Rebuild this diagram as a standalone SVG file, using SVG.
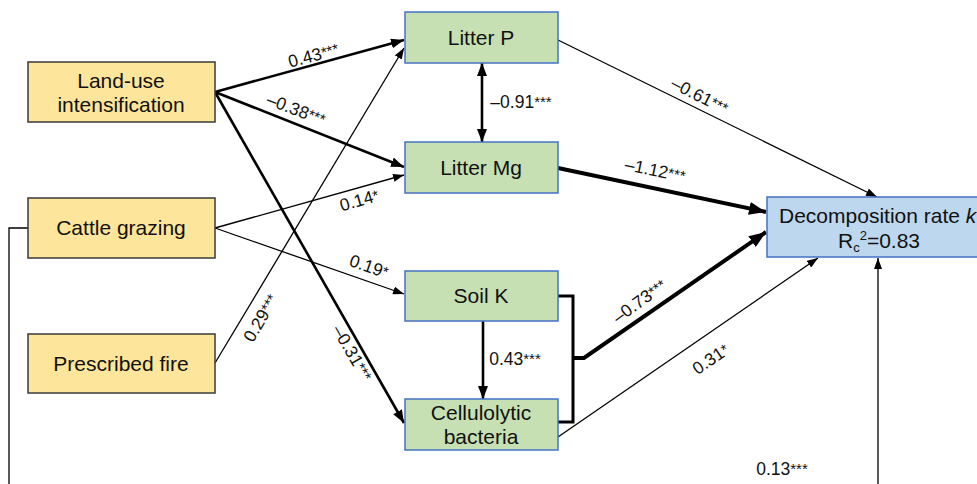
<svg xmlns="http://www.w3.org/2000/svg" width="977" height="484" viewBox="0 0 977 484">
<style>
text{font-family:"Liberation Sans",Arial,sans-serif;fill:#111}
.nt{font-size:21px;text-anchor:middle}
.lb{font-size:17.5px;text-anchor:middle}
.st{font-size:15px}
.y{fill:#fde69b;stroke:#3a3a3a;stroke-width:1.5}
.g{fill:#c6e0b4;stroke:#4472c4;stroke-width:1.5}
.b{fill:#bdd7ee;stroke:#4472c4;stroke-width:1.5}
.e{fill:none;stroke:#000}
.t1{stroke-width:1.3}
.t2{stroke-width:2.6}
.t3{stroke-width:4}
</style>
<defs>
<marker id="a1" markerUnits="userSpaceOnUse" markerWidth="11" markerHeight="8" refX="11" refY="4" orient="auto"><path d="M0,0 L11,4 L0,8 z" fill="#000"/></marker>
<marker id="a2" markerUnits="userSpaceOnUse" markerWidth="13" markerHeight="10" refX="13" refY="5" orient="auto-start-reverse"><path d="M0,0 L13,5 L0,10 z" fill="#000"/></marker>
<marker id="a3" markerUnits="userSpaceOnUse" markerWidth="17" markerHeight="13" refX="17" refY="6.5" orient="auto"><path d="M0,0 L17,6.5 L0,13 z" fill="#000"/></marker>
</defs>

<g id="connectors">
<path class="e t2" d="M215,92 L404,40" marker-end="url(#a2)"/>
<path class="e t2" d="M215,92 L404,167" marker-end="url(#a2)"/>
<path class="e t2" d="M215,92 L404,423" marker-end="url(#a2)"/>
<path class="e t1" d="M215,228 L404,175" marker-end="url(#a1)"/>
<path class="e t1" d="M215,228 L404,294" marker-end="url(#a1)"/>
<path class="e t1" d="M215,363 L404,48" marker-end="url(#a1)"/>
<path class="e t2" d="M482,63 L482,142" marker-start="url(#a2)" marker-end="url(#a2)"/>
<path class="e t2" d="M483,321 L483,399" marker-end="url(#a2)"/>
<path class="e t1" d="M558,40 L877,197" marker-end="url(#a1)"/>
<path class="e t3" d="M558,168 L766,212" marker-end="url(#a3)"/>
<path class="e" stroke-width="3" d="M558,296 H573 V422 H558"/>
<path class="e t3" d="M573,358 H584 L766,232" marker-end="url(#a3)"/>
<path class="e t1" d="M558,437 L818,258" marker-end="url(#a1)"/>
<path class="e t1" stroke="#333" d="M28,228 H9 V500 H878 V258" marker-end="url(#a1)"/>
</g>

<g id="labels">
<text class="lb" transform="translate(315,61) rotate(-15)">0.43<tspan class="st" dy="-1">***</tspan></text>
<text class="lb" transform="translate(294,115) rotate(21)">–0.38<tspan class="st" dy="-1">***</tspan></text>
<text class="lb" transform="translate(361,206) rotate(-16)">0.14<tspan class="st" dy="-1">*</tspan></text>
<text class="lb" transform="translate(367,272) rotate(19)">0.19<tspan class="st" dy="-1">*</tspan></text>
<text class="lb" transform="translate(266,321) rotate(-60)">0.29<tspan class="st" dy="-1">***</tspan></text>
<text class="lb" transform="translate(347,356) rotate(60)">–0.31<tspan class="st" dy="-1">***</tspan></text>
<text class="lb" x="521" y="108">–0.91<tspan class="st" dy="-1">***</tspan></text>
<text class="lb" transform="translate(697,101) rotate(27)">–0.61<tspan class="st" dy="-1">***</tspan></text>
<text class="lb" transform="translate(654,176) rotate(12)">–1.12<tspan class="st" dy="-1">***</tspan></text>
<text class="lb" transform="translate(643,306) rotate(-36)">–0.73<tspan class="st" dy="-1">***</tspan></text>
<text class="lb" transform="translate(714,364) rotate(-34)">0.31<tspan class="st" dy="-1">*</tspan></text>
<text class="lb" x="515" y="365">0.43<tspan class="st" dy="-1">***</tspan></text>
<text class="lb" x="782" y="475">0.13<tspan class="st" dy="-1">***</tspan></text>
</g>

<g id="landuse"><rect class="y" x="28" y="62" width="187" height="60"/><text class="nt" x="121" y="88">Land-use</text><text class="nt" x="121" y="112">intensification</text></g>
<g id="cattle"><rect class="y" x="28" y="198" width="187" height="60"/><text class="nt" x="121" y="235">Cattle grazing</text></g>
<g id="fire"><rect class="y" x="28" y="334" width="187" height="59"/><text class="nt" x="121" y="371">Prescribed fire</text></g>
<g id="litterP"><rect class="g" x="405" y="12" width="153" height="51"/><text class="nt" x="481" y="45">Litter P</text></g>
<g id="litterMg"><rect class="g" x="405" y="142" width="153" height="51"/><text class="nt" x="481" y="175">Litter Mg</text></g>
<g id="soilK"><rect class="g" x="405" y="271" width="153" height="50"/><text class="nt" x="481" y="303">Soil K</text></g>
<g id="bacteria"><rect class="g" x="405" y="399" width="153" height="51"/><text class="nt" x="481" y="420">Cellulolytic</text><text class="nt" x="481" y="444">bacteria</text></g>
<g id="decomp"><rect class="b" x="767" y="197" width="215" height="60"/><text x="779" y="223" font-size="21">Decomposition rate <tspan font-style="italic">k</tspan></text><text x="838" y="248" font-size="21">R<tspan font-size="13" dy="4">c</tspan><tspan font-size="13" dy="-12">2</tspan><tspan dy="8">=0.83</tspan></text></g>
</svg>
